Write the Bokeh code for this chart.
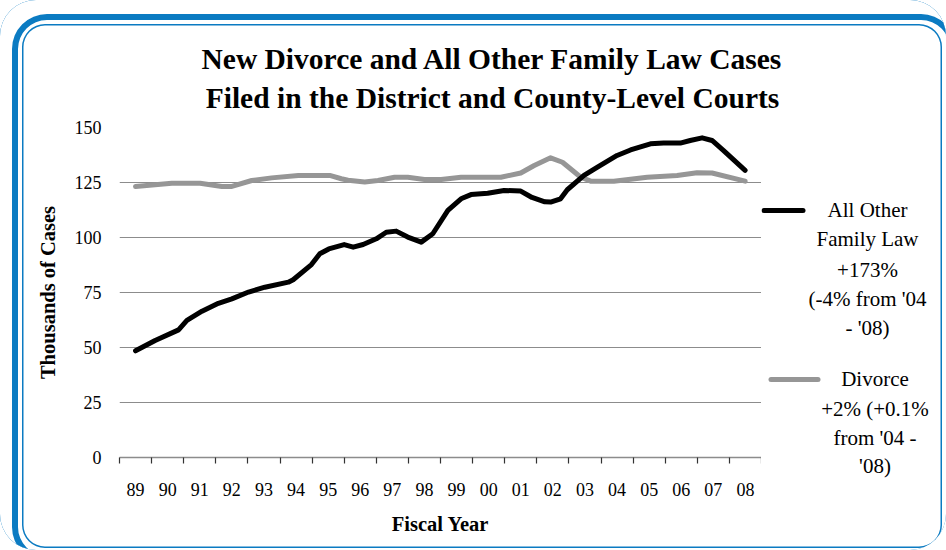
from bokeh.plotting import figure
from bokeh.layouts import column, row
from bokeh.models import Range1d, FixedTicker
from bokeh.core.properties import value
from bokeh.embed import file_html
from bokeh.resources import INLINE

# ---- data -------------------------------------------------------------
years = ["89", "90", "91", "92", "93", "94", "95", "96", "97", "98",
         "99", "00", "01", "02", "03", "04", "05", "06", "07", "08"]

# position in fiscal years after FY89 (fractional), thousands of cases
other_t = [0.00, 0.61, 1.34, 1.60, 2.07, 2.58, 3.00, 3.52, 4.03, 4.76,
           4.91, 5.48, 5.74, 6.02, 6.50, 6.78, 7.09, 7.50, 7.81, 8.12,
           8.48, 8.90, 9.26, 9.73, 10.14, 10.45, 10.97, 11.48, 12.00, 12.35,
           12.75, 12.93, 13.24, 13.45, 13.97, 14.39, 15.00, 15.42, 16.04, 16.45,
           16.97, 17.28, 17.65, 17.96, 18.32, 18.99]
other_k = [48.5, 53.2, 58.0, 62.3, 66.5, 70.1, 72.1, 75.2, 77.4, 79.7,
           80.8, 87.7, 92.6, 94.8, 96.8, 95.6, 96.8, 99.4, 102.4, 102.9,
           100.2, 97.9, 101.7, 112.3, 117.6, 119.5, 120.1, 121.4, 121.1, 118.2,
           116.2, 116.1, 117.6, 121.7, 128.2, 132.0, 137.3, 139.8, 142.6, 142.9,
           142.9, 144.1, 145.3, 144.1, 139.5, 130.5]

divorce_t = [0.00, 1.13, 2.01, 2.69, 3.00, 3.62, 4.24, 5.07, 6.05, 6.41,
             6.62, 7.14, 7.55, 8.07, 8.48, 9.00, 9.52, 10.14, 11.38, 12.00,
             12.42, 12.93, 13.30, 13.87, 14.18, 14.90, 15.94, 16.87, 17.49, 17.96,
             18.99]
divorce_k = [123.2, 124.7, 124.7, 123.2, 123.2, 125.9, 127.1, 128.2, 128.2, 126.7,
             126.0, 125.2, 125.9, 127.4, 127.4, 126.4, 126.4, 127.4, 127.4, 129.3,
             132.7, 136.2, 134.2, 127.4, 125.6, 125.6, 127.4, 128.2, 129.4, 129.3,
             125.6]

y_ticks = [0, 25, 50, 75, 100, 125, 150]

title_lines = ["New Divorce and All Other Family Law Cases",
               "Filed in the District and County-Level Courts"]
other_legend = ["All Other", "Family Law", "+173%", "(-4% from '04", "- '08)"]
divorce_legend = ["Divorce", "+2% (+0.1%", "from '04 -", "'08)"]

# ---- styling ----------------------------------------------------------
FONT = "Liberation Serif"
BLUE = "#0b7bc2"
GRID = "#8c8c8c"
GRAY_LINE = "#969696"

W, H = 946, 550
TITLE_H = 118
MAIN_W = 761


def blank_fig(width, height, xr, yr):
    f = figure(width=width, height=height, output_backend="svg",
               toolbar_location=None, title=None,
               x_range=Range1d(*xr), y_range=Range1d(*yr),
               x_axis_type=None, y_axis_type=None,
               min_border=0, min_border_left=0, min_border_right=0,
               min_border_top=0, min_border_bottom=0,
               background_fill_color=None, border_fill_color=None,
               outline_line_color=None)
    f.grid.visible = False
    f.frame_align = False
    return f


# ---- title panel (coordinates are page pixels) -------------------------
tfig = blank_fig(W, TITLE_H, (0, W), (TITLE_H, 0))
tfig.text(x=[492, 492], y=[58, 97], text=title_lines,
          text_font=value(FONT), text_font_size=value("29.5px"),
          text_font_style=value("bold"), text_color="black",
          text_align="center", text_baseline="middle")

# ---- main chart ---------------------------------------------------------
p = figure(width=MAIN_W, height=H - TITLE_H, output_backend="svg",
           toolbar_location=None, title=None,
           x_range=Range1d(-0.5, len(years) - 0.5), y_range=Range1d(0, 150),
           min_border_left=119, min_border_right=0,
           min_border_top=9, min_border_bottom=93,
           background_fill_color=None, border_fill_color=None,
           outline_line_color=None)
p.frame_align = False

xa = p.xaxis[0]
xa.ticker = FixedTicker(ticks=list(range(len(years))),
                        minor_ticks=[i - 0.5 for i in range(len(years) + 1)])
xa.major_label_overrides = {i: y for i, y in enumerate(years)}
xa.major_tick_out = 0
xa.major_tick_in = 0
xa.minor_tick_out = 6
xa.minor_tick_in = 0
xa.minor_tick_line_color = "#333333"
xa.minor_tick_line_width = 1.2
xa.axis_line_color = GRID
xa.axis_line_width = 1.5
xa.major_label_text_font = FONT
xa.major_label_text_font_size = "18px"
xa.major_label_text_color = "black"
xa.major_label_standoff = 19
xa.axis_label = "Fiscal Year"
xa.axis_label_text_font = FONT
xa.axis_label_text_font_size = "20.5px"
xa.axis_label_text_font_style = "bold"
xa.axis_label_text_color = "black"
xa.axis_label_standoff = 14

ya = p.yaxis[0]
ya.ticker = FixedTicker(ticks=y_ticks)
ya.axis_line_color = None
ya.major_tick_out = 0
ya.major_tick_in = 0
ya.minor_tick_out = 0
ya.minor_tick_in = 0
ya.major_label_text_font = FONT
ya.major_label_text_font_size = "18px"
ya.major_label_text_color = "black"
ya.major_label_standoff = 18
ya.axis_label = "Thousands of Cases"
ya.axis_label_text_font = FONT
ya.axis_label_text_font_size = "20.5px"
ya.axis_label_text_font_style = "bold"
ya.axis_label_text_color = "black"
ya.axis_label_standoff = 13

p.xgrid.visible = False
p.ygrid.grid_line_color = GRID
p.ygrid.grid_line_width = 1

p.line(divorce_t, divorce_k, line_color=GRAY_LINE, line_width=5,
       line_join="round", line_cap="round")
p.line(other_t, other_k, line_color="black", line_width=5,
       line_join="round", line_cap="round")

# ---- legend panel (coordinates are page pixels) -------------------------
lfig = blank_fig(W - MAIN_W, H - TITLE_H, (MAIN_W, W), (H, TITLE_H))
lfig.line(x=[763.5, 802.5], y=[210, 210], line_color="black", line_width=5,
          line_cap="round")
lfig.line(x=[770.5, 817.5], y=[379, 379], line_color=GRAY_LINE, line_width=5,
          line_cap="round")
lfig.text(x=[867] * len(other_legend), y=[209, 238.5, 269, 298, 327],
          text=other_legend, text_font=value(FONT), text_font_size=value("21px"),
          text_color="black", text_align="center", text_baseline="middle")
lfig.text(x=[874.5] * len(divorce_legend), y=[378, 408, 437, 465.5],
          text=divorce_legend, text_font=value(FONT), text_font_size=value("21px"),
          text_color="black", text_align="center", text_baseline="middle")

layout = column(tfig, row(p, lfig, spacing=0), spacing=0)
layout.styles = {
    "border-radius": "36px",
    "background-color": "white",
    "box-shadow": (
        "inset 11px 13px 0 1px white, "
        "inset 11px 13px 0 7px " + BLUE + ", "
        "inset 9px 11px 0 13px white, "
        "inset 9px 11px 0 14.5px " + BLUE
    ),
}

open("out.html", "w").write(file_html(layout, INLINE))
